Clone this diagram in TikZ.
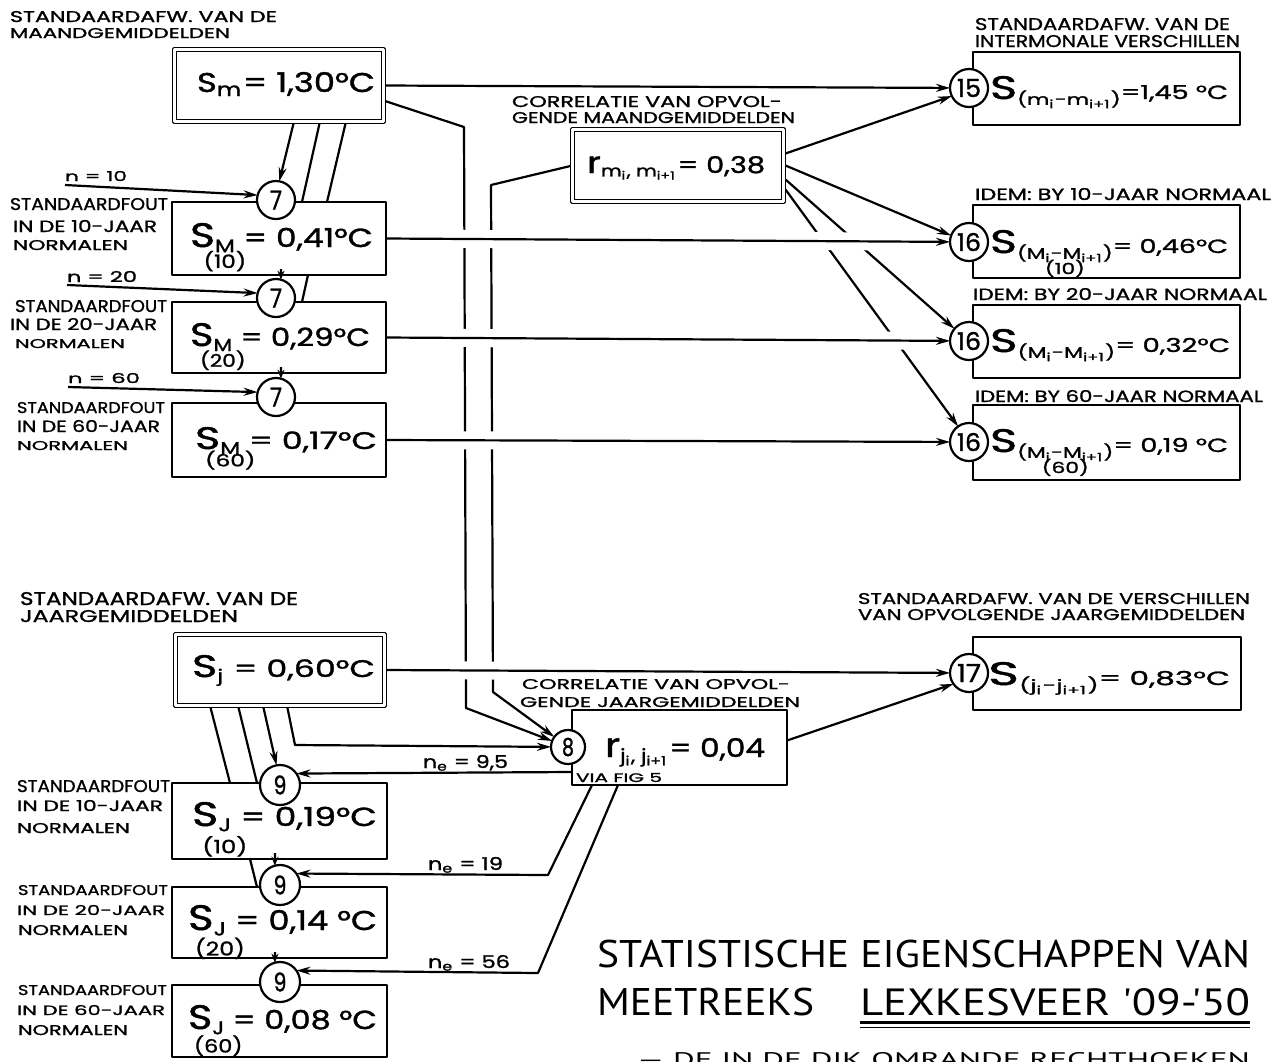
\documentclass[tikz,border=0pt]{standalone}
\usepackage{graphicx}
\usepackage{fontspec}
\setmainfont{Poppins}[BoldFont=Poppins,BoldFeatures={FakeBold=1.2}]
\newfontfamily\titlefont{PT Sans}
\usetikzlibrary{calc,arrows.meta}
\pgfdeclarelayer{bg}
\pgfsetlayers{bg,main}
\newcommand{\fitbox}[3]{\resizebox{#1pt}{#2pt}{#3}}
% subscript #1 lowered by #3 em, with #2 centred below it, lowered #4 (script em) more
\newcommand{\substk}[4]{\raisebox{-#3em}{\scriptsize\setbox0\hbox{#1}\rlap{\hbox to \wd0{\hss\raisebox{-#4em}{#2}\hss}}\box0}}
\newcommand{\subR}[4]{\raisebox{-#3em}{\footnotesize\setbox0\hbox{#1}\rlap{\hbox to \wd0{\hss\raisebox{-#4em}{#2}\hss}}\box0}}
\newcommand{\bigSS}{\scalebox{1.7}{S}}
\newcommand{\midS}{\scalebox{1.3}{S}}
\newcommand{\lbl}[6]{\node[txt] (#1) at (#2,#3) {\fitbox{#4}{#5}{\bfseries #6}};}
\newlength\tTw
\newlength\tTh
\begin{document}
\settowidth\tTw{\titlefont STATISTISCHE EIGENSCHAPPEN VAN}%
\settoheight\tTh{\titlefont H}%
\pgfmathsetmacro\tsx{653/\tTw}%
\pgfmathsetmacro\tsy{27/\tTh}%
\begin{tikzpicture}[x=1pt,y=-1pt,line width=2.2pt,line join=round,
  box/.style={draw,line width=2.2pt,inner sep=0pt,outer sep=0pt},
  dbox/.style={draw,double,double distance=2.2pt,line width=1.8pt,inner sep=0pt,outer sep=0pt},
  circ/.style={draw,circle,fill=white,inner sep=0pt,outer sep=0pt,minimum size=38pt,line width=2.2pt},
  txt/.style={anchor=base west,inner sep=0pt,outer sep=0pt},
  conn/.style={line width=2.2pt,line join=round},
  arr/.style={-{Stealth[length=14pt,width=8pt]}},
  arrs/.style={-{Stealth[length=9pt,width=7pt]}},
  bridge/.style={preaction={draw=white,line width=18pt,-,shorten <=12pt,shorten >=30pt}}]
\useasboundingbox (0,0) rectangle (1281,1061);
\begin{pgfonlayer}{bg}
\fill[white] (0,0) rectangle (1281,1061);
\end{pgfonlayer}

% ---------- boxes ----------
\node[dbox,minimum width=209pt,minimum height=72pt] (Sm) at (279,85.5) {};
\node[dbox,minimum width=211pt,minimum height=72pt] (rm) at (678,165.5) {};
\node[box,minimum width=214pt,minimum height=73pt] (MB1) at (279,238.5) {};
\node[box,minimum width=214pt,minimum height=71pt] (MB2) at (279,337.5) {};
\node[box,minimum width=214pt,minimum height=74pt] (MB3) at (279,440) {};
\node[box,minimum width=267pt,minimum height=73pt] (B15) at (1106.5,88.5) {};
\node[box,minimum width=267pt,minimum height=73pt] (B16a) at (1106.5,241.5) {};
\node[box,minimum width=267pt,minimum height=73pt] (B16b) at (1106.5,341.5) {};
\node[box,minimum width=267pt,minimum height=75pt] (B16c) at (1106.5,442.5) {};
\node[box,minimum width=268pt,minimum height=73pt] (B17) at (1107,673.5) {};
\node[dbox,minimum width=209pt,minimum height=71pt] (Sj) at (280,670) {};
\node[box,minimum width=215pt,minimum height=75pt] (rj) at (679.5,747.5) {};
\node[box,minimum width=215pt,minimum height=76pt] (JB1) at (279.5,821) {};
\node[box,minimum width=215pt,minimum height=71pt] (JB2) at (279.5,922.5) {};
\node[box,minimum width=215pt,minimum height=72pt] (JB3) at (279.5,1021) {};

% ---------- circles ----------
\node[circ] (c7a) at (276,200) {\fitbox{12}{19}{\bfseries 7}};
\node[circ] (c7b) at (276,298) {\fitbox{12}{19}{\bfseries 7}};
\node[circ] (c7c) at (276,397) {\fitbox{12}{19}{\bfseries 7}};
\node[circ] (c15) at (969,88) {\fitbox{24}{18}{\bfseries 15}};
\node[circ] (c16a) at (969,242) {\fitbox{24}{18}{\bfseries 16}};
\node[circ] (c16b) at (969,341) {\fitbox{24}{18}{\bfseries 16}};
\node[circ] (c16c) at (969,442) {\fitbox{24}{18}{\bfseries 16}};
\node[circ] (c17) at (969,673) {\fitbox{24}{18}{\bfseries 17}};
\node[circ,minimum size=34pt] (c8) at (568,747) {\fitbox{12}{18}{\bfseries 8}};
\node[circ,minimum size=40pt] (c9a) at (280,785) {\fitbox{13}{19}{\bfseries 9}};
\node[circ,minimum size=40pt] (c9b) at (280,885) {\fitbox{13}{19}{\bfseries 9}};
\node[circ,minimum size=40pt] (c9c) at (280,982) {\fitbox{13}{19}{\bfseries 9}};

% ---------- free ends and bends ----------
\coordinate (n10s) at (65,185);
\coordinate (n20s) at (67,285);
\coordinate (n60s) at (68,387);
\coordinate (k1) at (464,127);
\coordinate (k2) at (466,708);
\coordinate (k3) at (491,185);
\coordinate (k4) at (493,692);
\coordinate (k5) at (295,745);
\coordinate (k6) at (548,875);
\coordinate (k7) at (538,973);

% ---------- connectors ----------
\begin{pgfonlayer}{bg}
\begin{scope}[conn]
\draw[arr] ($(Sm.south west)+(119,2)$) -- (c7a.80);
\draw ($(Sm.south west)+(145,2)$) -- ($(MB1.north west)+(130,0)$);
\draw ($(Sm.south west)+(171,2)$) -- ($(MB1.north west)+(155,0)$);
\draw ($(MB1.south west)+(136,0)$) -- ($(MB2.north west)+(130,0)$);
\draw[arrs] ($(MB1.south west)+(109,-6)$) -- (c7b.75);
\draw[arrs] ($(MB2.south west)+(109,-6)$) -- (c7c.75);
\draw[arr] (n10s) -- (c7a.165);
\draw[arr] (n20s) -- (c7b.165);
\draw[arr] (n60s) -- (c7c.165);
\draw[arr] ($(Sm.east)+(0,15)$) -- (k1) -- (k2) -- (c8);
\draw[arr] (rm.west) -- (k3) -- (k4) -- (c8);
\draw[arr] ($(rm.east)+(2,-12)$) -- (c15.205);
\draw[arr] ($(rm.east)+(2,0)$) -- (c16a.160);
\draw[arr] ($(rm.east)+(2,14)$) -- (c16b.140);
\draw[arr] ($(rm.east)+(2,24)$) -- (c16c.125);
\draw[arr] (Sm.east) -- (c15);
\draw[arr,bridge] (MB1.east) -- (c16a);
\draw[arr,bridge] (MB2.east) -- (c16b);
\draw[arr,bridge] (MB3.east) -- (c16c);
\draw[arr,bridge] (Sj.east) -- (c17);
\draw[arr] ($(Sj.south west)+(111.5,0)$) -- (k5) -- (c8);
\draw ($(Sj.south west)+(34.5,0)$) -- ($(JB1.north west)+(58,0)$);
\draw ($(Sj.south west)+(62.5,0)$) -- ($(JB1.north west)+(85,0)$);
\draw[arr] ($(Sj.south west)+(87.5,0)$) -- (c9a.100);
\draw ($(JB1.south west)+(78,0)$) -- ($(JB2.north west)+(85,0)$);
\draw[arrs] ($(JB1.south west)+(103,-6)$) -- (c9b.105);
\draw[arrs] ($(JB2.south west)+(103,-6)$) -- (c9c.105);
\draw[arr] ($(rj.south west)+(0,-13)$) -- (c9a.35);
\draw[arr] ($(rj.south west)+(20,0)$) -- (k6) -- (c9b.35);
\draw[arr] ($(rj.south west)+(46,0)$) -- (k7) -- (c9c.35);
\draw[arr] ($(rj.east)+(0,-7)$) -- (c17.215);
\end{scope}
\end{pgfonlayer}

% ---------- values in the boxes ----------
\lbl{vSm}{197}{92}{178}{20}{S\textsubscript{m}= 1,30°C}
\lbl{vMB1}{190}{247}{183}{24}{\midS\substk{M}{(10)}{0.2}{0.86} = 0,41°C}
\lbl{vMB2}{190}{346}{180}{23}{\midS\substk{M}{(20)}{0.2}{0.9} = 0,29°C}
\lbl{vMB3}{195}{449}{182}{22}{\midS\substk{M}{(60)}{0.2}{0.75} = 0,17°C}
\lbl{vrm}{587}{173}{178}{17}{\scalebox{1.3}{r}\textsubscript{m\textsubscript{i}, m\textsubscript{i+1}}= 0,38}
\lbl{v15}{990}{99}{238}{23}{\bigSS\subR{(m\textsubscript{i}-m\textsubscript{i+1})}{}{0.3}{0}=1,45 °C}
\lbl{v16a}{990}{253}{238}{23}{\bigSS\subR{(M\textsubscript{i}-M\textsubscript{i+1})}{(10)}{0.3}{1.0}= 0,46°C}
\lbl{v16b}{990}{352}{240}{23}{\bigSS\subR{(M\textsubscript{i}-M\textsubscript{i+1})}{}{0.3}{0}= 0,32°C}
\lbl{v16c}{990}{452}{238}{23}{\bigSS\subR{(M\textsubscript{i}-M\textsubscript{i+1})}{(60)}{0.3}{1.0}= 0,19 °C}
\lbl{v17}{988}{685}{242}{23}{\bigSS\subR{(j\textsubscript{i}-j\textsubscript{i+1})}{}{0.3}{0}= 0,83°C}
\lbl{vSj}{192}{677}{183}{22}{\midS\textsubscript{j} = 0,60°C}
\lbl{vJB1}{192}{826}{185}{24}{\midS\substk{J}{(10)}{0.2}{1.2} = 0,19°C}
\lbl{vJB2}{188}{930}{189}{25}{\midS\substk{J}{(20)}{0.2}{1.05} = 0,14 °C}
\lbl{vJB3}{188}{1029}{189}{24}{\midS\substk{J}{(60)}{0.2}{1.0} = 0,08 °C}
\lbl{vrj}{605}{757}{160}{19}{\scalebox{1.3}{r}\textsubscript{j\textsubscript{i}, j\textsubscript{i+1}}= 0,04}
\lbl{via}{576}{782}{86}{9}{VIA FIG 5}

% ---------- captions ----------
\lbl{tA1}{10}{22}{267}{11}{STANDAARDAFW. VAN DE}
\lbl{tA2}{10}{38}{220}{10}{MAANDGEMIDDELDEN}
\lbl{tB1}{512}{107}{270}{11}{CORRELATIE VAN OPVOL-}
\lbl{tB2}{512}{123}{283}{11}{GENDE MAANDGEMIDDELDEN}
\lbl{tC1}{975}{30}{255}{12}{STANDAARDAFW. VAN DE}
\lbl{tC2}{975}{47}{265}{12}{INTERMONALE VERSCHILLEN}
\lbl{tD}{975}{200}{296}{12}{IDEM: BY 10-JAAR NORMAAL}
\lbl{tE}{973}{300}{294}{12}{IDEM: BY 20-JAAR NORMAAL}
\lbl{tF}{975}{402}{288}{12}{IDEM: BY 60-JAAR NORMAAL}
\lbl{tn10}{65}{181}{62}{10}{n = 10}
\lbl{tn20}{67}{282}{70}{11}{n = 20}
\lbl{tn60}{68}{383}{72}{10}{n = 60}
\lbl{L1a}{10}{210}{158}{12}{STANDAARDFOUT}
\lbl{L1b}{13}{232}{144}{12}{IN DE 10-JAAR}
\lbl{L1c}{13}{250}{115}{10}{NORMALEN}
\lbl{L2a}{15}{312}{152}{12}{STANDAARDFOUT}
\lbl{L2b}{10}{330}{147}{12}{IN DE 20-JAAR}
\lbl{L2c}{15}{348}{110}{9}{NORMALEN}
\lbl{L3a}{17}{413}{148}{11}{STANDAARDFOUT}
\lbl{L3b}{17}{432}{143}{12}{IN DE 60-JAAR}
\lbl{L3c}{17}{450}{111}{9}{NORMALEN}
\lbl{tG1}{20}{605}{278}{13}{STANDAARDAFW. VAN DE}
\lbl{tG2}{20}{622}{218}{12}{JAARGEMIDDELDEN}
\lbl{tH1}{522}{689}{268}{10}{CORRELATIE VAN OPVOL-}
\lbl{tH2}{520}{707}{280}{10}{GENDE JAARGEMIDDELDEN}
\lbl{tI1}{858}{604}{392}{11}{STANDAARDAFW. VAN DE VERSCHILLEN}
\lbl{tI2}{858}{620}{387}{11}{VAN OPVOLGENDE JAARGEMIDDELDEN}
\lbl{J1a}{17}{792}{153}{12}{STANDAARDFOUT}
\lbl{J1b}{17}{811}{146}{11}{IN DE 10-JAAR}
\lbl{J1c}{17}{833}{113}{10}{NORMALEN}
\lbl{J2a}{18}{895}{150}{10}{STANDAARDFOUT}
\lbl{J2b}{17}{915}{148}{10}{IN DE 20-JAAR}
\lbl{J2c}{18}{935}{110}{10}{NORMALEN}
\lbl{J3a}{18}{995}{149}{10}{STANDAARDFOUT}
\lbl{J3b}{17}{1015}{148}{10}{IN DE 60-JAAR}
\lbl{J3c}{18}{1035}{110}{10}{NORMALEN}
\lbl{ne1}{423}{768}{85}{13}{n\textsubscript{e} = 9,5}
\lbl{ne2}{428}{870}{75}{13}{n\textsubscript{e} = 19}
\lbl{ne3}{428}{968}{82}{13}{n\textsubscript{e} = 56}

% ---------- title ----------
\node[txt] (T1) at (597,967) {\scalebox{\tsx}[\tsy]{\titlefont STATISTISCHE EIGENSCHAPPEN VAN}};
\node[txt] (T2a) at (597,1015) {\scalebox{\tsx}[\tsy]{\titlefont MEETREEKS}};
\node[txt] (T2b) at (860,1015) {\fitbox{390}{27}{\titlefont LEXKESVEER '09-'50}};
\draw[line width=3pt] ($(T2b.base west)+(0,7)$) -- ($(T2b.base east)+(0,7)$);
\draw[line width=1.5pt] ($(T2b.base west)+(0,12.5)$) -- ($(T2b.base east)+(0,12.5)$);
\begin{scope}
\clip (0,0) rectangle (1281,1061);
\node[txt] (T3) at (637,1066) {\fitbox{613}{14}{\titlefont — DE IN DE DIK OMRANDE RECHTHOEKEN}};
\end{scope}
\end{tikzpicture}
\end{document}
